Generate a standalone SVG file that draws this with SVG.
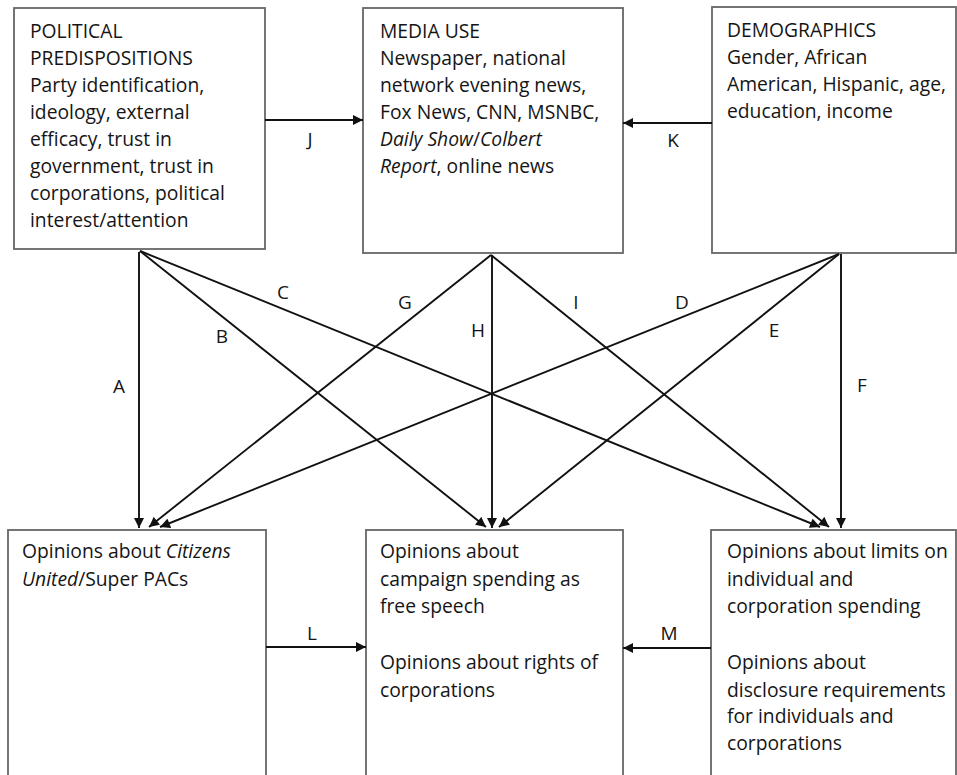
<svg xmlns="http://www.w3.org/2000/svg" width="957" height="775" viewBox="0 0 957 775">
<defs>
<marker id="ah" viewBox="0 0 10 10" refX="10" refY="5" markerWidth="11" markerHeight="10" markerUnits="userSpaceOnUse" orient="auto">
<path d="M0,0 L10,5 L0,10 z" fill="#111"/>
</marker>
<style>
.box{fill:#fff;stroke:#666;stroke-width:1.8}
text{font-family:"Open Sans","Liberation Sans",sans-serif;font-size:19.3px;fill:#151515}
.lbl{font-size:19px}
.c line{stroke:#111;stroke-width:1.9;marker-end:url(#ah)}
</style>
</defs>
<rect width="957" height="775" fill="#fff"/>
<g id="political">
<rect class="box" x="14" y="8" width="251" height="241"/>
<text x="30" y="38">POLITICAL</text>
<text x="30" y="65">PREDISPOSITIONS</text>
<text x="30" y="92">Party identification,</text>
<text x="30" y="119">ideology, external</text>
<text x="30" y="146">efficacy, trust in</text>
<text x="30" y="173">government, trust in</text>
<text x="30" y="200">corporations, political</text>
<text x="30" y="227">interest/attention</text>
</g>
<g id="media">
<rect class="box" x="363" y="8" width="260" height="245"/>
<text x="380" y="38">MEDIA USE</text>
<text x="380" y="65">Newspaper, national</text>
<text x="380" y="92">network evening news,</text>
<text x="380" y="119">Fox News, CNN, MSNBC,</text>
<text x="380" y="146"><tspan font-style="italic">Daily Show</tspan>/<tspan font-style="italic">Colbert</tspan></text>
<text x="380" y="173"><tspan font-style="italic">Report</tspan>, online news</text>
</g>
<g id="demographics">
<rect class="box" x="712" y="7" width="244" height="246"/>
<text x="727" y="37">DEMOGRAPHICS</text>
<text x="727" y="64">Gender, African</text>
<text x="727" y="91">American, Hispanic, age,</text>
<text x="727" y="118">education, income</text>
</g>
<g id="citizens">
<rect class="box" x="8" y="530" width="258" height="260"/>
<text x="22" y="558">Opinions about <tspan font-style="italic">Citizens</tspan></text>
<text x="22" y="586"><tspan font-style="italic">United</tspan>/Super PACs</text>
</g>
<g id="speech">
<rect class="box" x="366" y="530" width="257" height="260"/>
<text x="380" y="558">Opinions about</text>
<text x="380" y="586">campaign spending as</text>
<text x="380" y="613">free speech</text>
<text x="380" y="669">Opinions about rights of</text>
<text x="380" y="697">corporations</text>
</g>
<g id="limits">
<rect class="box" x="711" y="530" width="245" height="260"/>
<text x="727" y="558">Opinions about limits on</text>
<text x="727" y="586">individual and</text>
<text x="727" y="613">corporation spending</text>
<text x="727" y="669">Opinions about</text>
<text x="727" y="697">disclosure requirements</text>
<text x="727" y="723">for individuals and</text>
<text x="727" y="750">corporations</text>
</g>
<g id="connectors" class="c">
<line x1="139" y1="252" x2="139" y2="528"/>
<line x1="140" y1="251" x2="486" y2="527"/>
<line x1="140" y1="251" x2="820" y2="527"/>
<line x1="491" y1="255" x2="149" y2="527"/>
<line x1="492" y1="255" x2="492" y2="528"/>
<line x1="491" y1="255" x2="829" y2="527"/>
<line x1="839" y1="254" x2="160" y2="527"/>
<line x1="839" y1="254" x2="499" y2="527"/>
<line x1="841" y1="254" x2="841" y2="528"/>
<line x1="265" y1="120" x2="363" y2="120"/>
<line x1="712" y1="123" x2="623" y2="123"/>
<line x1="266" y1="647" x2="366" y2="647"/>
<line x1="711" y1="648" x2="623" y2="648"/>
</g>
<g id="labels">
<text class="lbl" x="119" y="393" text-anchor="middle">A</text>
<text class="lbl" x="222" y="343" text-anchor="middle">B</text>
<text class="lbl" x="283" y="299" text-anchor="middle">C</text>
<text class="lbl" x="682" y="309" text-anchor="middle">D</text>
<text class="lbl" x="774" y="337" text-anchor="middle">E</text>
<text class="lbl" x="862" y="392" text-anchor="middle">F</text>
<text class="lbl" x="405" y="309" text-anchor="middle">G</text>
<text class="lbl" x="478" y="337" text-anchor="middle">H</text>
<text class="lbl" x="576" y="309" text-anchor="middle">I</text>
<text class="lbl" x="310" y="146" text-anchor="middle">J</text>
<text class="lbl" x="673" y="147" text-anchor="middle">K</text>
<text class="lbl" x="312" y="640" text-anchor="middle">L</text>
<text class="lbl" x="669" y="640" text-anchor="middle">M</text>
</g>
</svg>
